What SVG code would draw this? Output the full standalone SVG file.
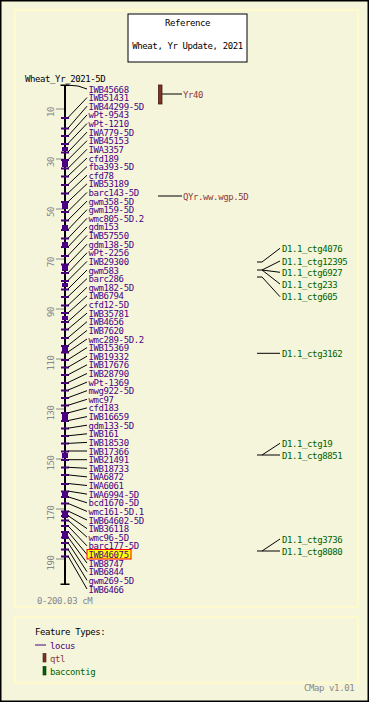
<svg xmlns="http://www.w3.org/2000/svg" width="369" height="702" viewBox="0 0 369 702">
<style>
text{font-family:"DejaVu Sans Mono","Liberation Mono",monospace;font-size:9px;letter-spacing:-0.4px}
.lb{fill:#4b0082}
.q{fill:#8b3a3a}
.g{fill:#006400}
.k{fill:#000}
.gr{fill:#888}
.cn line,.cn polyline{stroke:#000;stroke-width:1;fill:none}
.tk{fill:#4b0082}
.ax{stroke:#888;stroke-width:1}
</style>
<rect x="0" y="0" width="369" height="702" fill="#f5f5dc" stroke="#000" stroke-width="3"/>
<rect id="mainpanel" x="15" y="10" width="343" height="597" fill="#f5f5dc" stroke="#fffacd" stroke-width="2.5"/>
<rect id="legendpanel" x="15" y="617" width="343" height="66" fill="#f5f5dc" stroke="#fffacd" stroke-width="2.5"/>

<g id="title">
<rect x="128" y="14" width="119" height="48" fill="#fff" stroke="#000" stroke-width="1"/>
<text class="k" x="187.5" y="25.5" text-anchor="middle">Reference</text>
<text class="k" x="187.5" y="49" text-anchor="middle">Wheat, Yr Update, 2021</text>
</g>

<text id="maptitle" class="k" x="25" y="82">Wheat_Yr_2021-5D</text>

<g id="axis">
<line class="ax" x1="56" y1="109" x2="64" y2="109"/>
<line class="ax" x1="56" y1="159" x2="64" y2="159"/>
<line class="ax" x1="56" y1="209" x2="64" y2="209"/>
<line class="ax" x1="56" y1="259" x2="64" y2="259"/>
<line class="ax" x1="56" y1="309" x2="64" y2="309"/>
<line class="ax" x1="56" y1="359" x2="64" y2="359"/>
<line class="ax" x1="56" y1="409" x2="64" y2="409"/>
<line class="ax" x1="56" y1="459" x2="64" y2="459"/>
<line class="ax" x1="56" y1="509" x2="64" y2="509"/>
<line class="ax" x1="56" y1="559" x2="64" y2="559"/>
<text class="gr" transform="translate(53.5,112) rotate(-90)" text-anchor="middle">10</text>
<text class="gr" transform="translate(53.5,162) rotate(-90)" text-anchor="middle">30</text>
<text class="gr" transform="translate(53.5,212) rotate(-90)" text-anchor="middle">50</text>
<text class="gr" transform="translate(53.5,262) rotate(-90)" text-anchor="middle">70</text>
<text class="gr" transform="translate(53.5,312) rotate(-90)" text-anchor="middle">90</text>
<text class="gr" transform="translate(53.5,363) rotate(-90)" text-anchor="middle">110</text>
<text class="gr" transform="translate(53.5,413) rotate(-90)" text-anchor="middle">130</text>
<text class="gr" transform="translate(53.5,463) rotate(-90)" text-anchor="middle">150</text>
<text class="gr" transform="translate(53.5,513) rotate(-90)" text-anchor="middle">170</text>
<text class="gr" transform="translate(53.5,563) rotate(-90)" text-anchor="middle">190</text>
<text class="gr" x="37" y="604">0-200.03 cM</text>
</g>

<g id="chromosome">
<rect x="64" y="85" width="2" height="499" fill="#000"/>
<rect x="60.5" y="84.5" width="9" height="1.5" fill="#000"/>
<rect x="60.5" y="583.5" width="9" height="1.5" fill="#000"/>
<g class="tk">
<rect x="61" y="117" width="8" height="2"/><rect x="61" y="127.5" width="8" height="2"/><rect x="61" y="135" width="8" height="2"/><rect x="61" y="143" width="8" height="2"/><rect x="62" y="147" width="6" height="4"/><rect x="61" y="151.5" width="8" height="2"/><rect x="61" y="159" width="8" height="2"/><rect x="62" y="160" width="6" height="7"/><rect x="61" y="167.5" width="8" height="2"/><rect x="61" y="175.5" width="8" height="2"/><rect x="61" y="184" width="8" height="2"/><rect x="61" y="192.5" width="8" height="2"/><rect x="61" y="201" width="8" height="2"/><rect x="62" y="203" width="6" height="6"/><rect x="61" y="211" width="8" height="2"/><rect x="61" y="219.5" width="8" height="2"/><rect x="62" y="225" width="6" height="5"/><rect x="61" y="229" width="8" height="2"/><rect x="61" y="237.5" width="8" height="2"/><rect x="62" y="242" width="6" height="6"/><rect x="61" y="246" width="8" height="2"/><rect x="61" y="255" width="8" height="2"/><rect x="61" y="263.5" width="8" height="2"/><rect x="62" y="265" width="6" height="6"/><rect x="61" y="272" width="8" height="2"/><rect x="61" y="280" width="8" height="2"/><rect x="62" y="283" width="6" height="4"/><rect x="61" y="288.5" width="8" height="2"/><rect x="61" y="296" width="8" height="2"/><rect x="61" y="304.5" width="8" height="2"/><rect x="61" y="312" width="8" height="2"/><rect x="62" y="316" width="6" height="4"/><rect x="61" y="321" width="8" height="2"/><rect x="61" y="328.5" width="8" height="2"/><rect x="61" y="337" width="8" height="2"/><rect x="61" y="345" width="8" height="2"/><rect x="62" y="346" width="6" height="6"/><rect x="61" y="351.5" width="8" height="2"/><rect x="61" y="359" width="8" height="2"/><rect x="61" y="366.5" width="8" height="2"/><rect x="61" y="374" width="8" height="2"/><rect x="61" y="382" width="8" height="2"/><rect x="61" y="389.5" width="8" height="2"/><rect x="61" y="397" width="8" height="2"/><rect x="61" y="404.5" width="8" height="2"/><rect x="61" y="412" width="8" height="2"/><rect x="62" y="414" width="6" height="6"/><rect x="61" y="420" width="8" height="2"/><rect x="61" y="427.5" width="8" height="2"/><rect x="61" y="435" width="8" height="2"/><rect x="61" y="442.5" width="8" height="2"/><rect x="61" y="450.5" width="8" height="2"/><rect x="62" y="453" width="6" height="5"/><rect x="61" y="459" width="8" height="2"/><rect x="61" y="466.5" width="8" height="2"/><rect x="61" y="474" width="8" height="2"/><rect x="61" y="483" width="8" height="2"/><rect x="61" y="490.5" width="8" height="2"/><rect x="62" y="491" width="6" height="5"/><rect x="61" y="496" width="8" height="2"/><rect x="61" y="502.5" width="8" height="2"/><rect x="61" y="510.5" width="8" height="2"/><rect x="62" y="511" width="6" height="7"/><rect x="61" y="515" width="8" height="2"/><rect x="61" y="519.5" width="8" height="2"/><rect x="61" y="525" width="8" height="2"/><rect x="61" y="531" width="8" height="2"/><rect x="62" y="531" width="6" height="8"/><rect x="61" y="536.5" width="8" height="2"/><rect x="61" y="542" width="8" height="2"/><rect x="61" y="548.5" width="8" height="2"/><rect x="61" y="555.5" width="8" height="2"/>
</g>
</g>

<g id="connectors" class="cn">
<polyline points="66,85 78,86 87,89"/>
<line x1="68" y1="117.6" x2="87" y2="97.6"/>
<line x1="68" y1="128.2" x2="87" y2="106.2"/>
<line x1="68" y1="135.9" x2="87" y2="114.9"/>
<line x1="68" y1="143.5" x2="87" y2="123.5"/>
<line x1="68" y1="152.1" x2="87" y2="132.1"/>
<line x1="68" y1="159.7" x2="87" y2="140.7"/>
<line x1="68" y1="168.3" x2="87" y2="149.3"/>
<line x1="68" y1="176" x2="87" y2="158"/>
<line x1="68" y1="184.6" x2="87" y2="166.6"/>
<line x1="68" y1="193.2" x2="87" y2="175.2"/>
<line x1="68" y1="201.8" x2="87" y2="183.8"/>
<line x1="68" y1="211.4" x2="87" y2="192.4"/>
<line x1="68" y1="220.1" x2="87" y2="201.1"/>
<line x1="68" y1="229.7" x2="87" y2="209.7"/>
<line x1="68" y1="238.3" x2="87" y2="218.3"/>
<line x1="68" y1="246.9" x2="87" y2="226.9"/>
<line x1="68" y1="255.5" x2="87" y2="235.5"/>
<line x1="68" y1="264.2" x2="87" y2="244.2"/>
<line x1="68" y1="272.8" x2="87" y2="252.8"/>
<line x1="68" y1="280.4" x2="87" y2="261.4"/>
<line x1="68" y1="289" x2="87" y2="270"/>
<line x1="68" y1="296.6" x2="87" y2="278.6"/>
<line x1="68" y1="305.3" x2="87" y2="287.3"/>
<line x1="68" y1="312.9" x2="87" y2="295.9"/>
<line x1="68" y1="321.5" x2="87" y2="304.5"/>
<line x1="68" y1="329.1" x2="87" y2="313.1"/>
<line x1="68" y1="337.7" x2="87" y2="321.7"/>
<line x1="68" y1="345.4" x2="87" y2="330.4"/>
<line x1="68" y1="352" x2="87" y2="339"/>
<line x1="68" y1="359.6" x2="87" y2="347.6"/>
<line x1="68" y1="367.2" x2="87" y2="356.2"/>
<line x1="68" y1="374.8" x2="87" y2="364.8"/>
<line x1="68" y1="382.5" x2="87" y2="373.5"/>
<line x1="68" y1="390.1" x2="87" y2="382.1"/>
<line x1="68" y1="397.7" x2="87" y2="390.7"/>
<line x1="68" y1="405.3" x2="87" y2="399.3"/>
<line x1="68" y1="412.9" x2="87" y2="407.9"/>
<line x1="68" y1="420.6" x2="87" y2="416.6"/>
<line x1="68" y1="428.2" x2="87" y2="425.2"/>
<line x1="68" y1="435.8" x2="87" y2="433.8"/>
<line x1="68" y1="443.4" x2="87" y2="442.4"/>
<line x1="68" y1="451" x2="87" y2="451"/>
<line x1="68" y1="459.7" x2="87" y2="459.7"/>
<line x1="68" y1="467.3" x2="87" y2="468.3"/>
<line x1="68" y1="474.9" x2="87" y2="476.9"/>
<line x1="68" y1="483.5" x2="87" y2="485.5"/>
<line x1="68" y1="491.1" x2="87" y2="494.1"/>
<line x1="68" y1="496.8" x2="87" y2="502.8"/>
<line x1="68" y1="503.4" x2="87" y2="511.4"/>
<line x1="68" y1="511" x2="87" y2="520"/>
<line x1="68" y1="515.6" x2="87" y2="528.6"/>
<line x1="68" y1="520.2" x2="87" y2="537.2"/>
<line x1="68" y1="525.9" x2="87" y2="545.9"/>
<line x1="68" y1="531.5" x2="87" y2="554.5"/>
<line x1="68" y1="537.1" x2="87" y2="563.1"/>
<line x1="68" y1="542.7" x2="87" y2="571.7"/>
<line x1="68" y1="549.3" x2="87" y2="580.3"/>
<line x1="68" y1="556" x2="87" y2="589"/>
<line x1="162" y1="94" x2="182" y2="94"/>
<line x1="158" y1="196" x2="182" y2="196"/>
<polyline points="257,262 262,262 280,248.3"/>
<line x1="257" y1="270" x2="262" y2="270"/>
<line x1="262" y1="270" x2="280" y2="261"/>
<line x1="262" y1="270" x2="280" y2="272.3"/>
<line x1="262" y1="270" x2="280" y2="284"/>
<polyline points="257,277 262,277 280,296.7"/>
<line x1="257" y1="353.3" x2="280" y2="353.3"/>
<line x1="257" y1="455" x2="280" y2="455"/>
<line x1="262" y1="455" x2="280" y2="443.3"/>
<line x1="257" y1="551" x2="280" y2="551"/>
<line x1="262" y1="551" x2="280" y2="539"/>
</g>

<g id="loci" class="lb">
<text x="88.5" y="92.5">IWB45668</text>
<text x="88.5" y="101.1">IWB51431</text>
<text x="88.5" y="109.7">IWB44299-5D</text>
<text x="88.5" y="118.4">wPt-9543</text>
<text x="88.5" y="127">wPt-1210</text>
<text x="88.5" y="135.6">IWA779-5D</text>
<text x="88.5" y="144.2">IWB45153</text>
<text x="88.5" y="152.8">IWA3357</text>
<text x="88.5" y="161.5">cfd189</text>
<text x="88.5" y="170.1">fba393-5D</text>
<text x="88.5" y="178.7">cfd78</text>
<text x="88.5" y="187.3">IWB53189</text>
<text x="88.5" y="195.9">barc143-5D</text>
<text x="88.5" y="204.6">gwm358-5D</text>
<text x="88.5" y="213.2">gwm159-5D</text>
<text x="88.5" y="221.8">wmc805-5D.2</text>
<text x="88.5" y="230.4">gdm153</text>
<text x="88.5" y="239">IWB57550</text>
<text x="88.5" y="247.7">gdm138-5D</text>
<text x="88.5" y="256.3">wPt-2256</text>
<text x="88.5" y="264.9">IWB29300</text>
<text x="88.5" y="273.5">gwm583</text>
<text x="88.5" y="282.1">barc286</text>
<text x="88.5" y="290.8">gwm182-5D</text>
<text x="88.5" y="299.4">IWB6794</text>
<text x="88.5" y="308">cfd12-5D</text>
<text x="88.5" y="316.6">IWB35781</text>
<text x="88.5" y="325.2">IWB4656</text>
<text x="88.5" y="333.9">IWB7620</text>
<text x="88.5" y="342.5">wmc289-5D.2</text>
<text x="88.5" y="351.1">IWB15369</text>
<text x="88.5" y="359.7">IWB19332</text>
<text x="88.5" y="368.3">IWB17676</text>
<text x="88.5" y="377">IWB28790</text>
<text x="88.5" y="385.6">wPt-1369</text>
<text x="88.5" y="394.2">mwg922-5D</text>
<text x="88.5" y="402.8">wmc97</text>
<text x="88.5" y="411.4">cfd183</text>
<text x="88.5" y="420.1">IWB16659</text>
<text x="88.5" y="428.7">gdm133-5D</text>
<text x="88.5" y="437.3">IWB161</text>
<text x="88.5" y="445.9">IWB18530</text>
<text x="88.5" y="454.5">IWB17366</text>
<text x="88.5" y="463.2">IWB21491</text>
<text x="88.5" y="471.8">IWB18733</text>
<text x="88.5" y="480.4">IWA6872</text>
<text x="88.5" y="489">IWA6061</text>
<text x="88.5" y="497.6">IWA6994-5D</text>
<text x="88.5" y="506.3">bcd1670-5D</text>
<text x="88.5" y="514.9">wmc161-5D.1</text>
<text x="88.5" y="523.5">IWB64602-5D</text>
<text x="88.5" y="532.1">IWB36118</text>
<text x="88.5" y="540.7">wmc96-5D</text>
<text x="88.5" y="549.4">barc177-5D</text>
<rect x="87" y="549.5" width="44" height="9.5" fill="#ffff00" stroke="#ff0000" stroke-width="1"/>
<text x="88.5" y="558">IWB46075</text>
<text x="88.5" y="566.6">IWB8747</text>
<text x="88.5" y="575.2">IWB6844</text>
<text x="88.5" y="583.8">gwm269-5D</text>
<text x="88.5" y="592.5">IWB6466</text>
</g>

<g id="qtl-Yr40">
<rect x="158.5" y="85" width="3.5" height="19" fill="#7a3326" stroke="#4a1a10" stroke-width="0.8"/>
<text class="q" x="183" y="97.5">Yr40</text>
</g>
<g id="qtl-QYr">
<text class="q" x="183" y="199.5">QYr.ww.wgp.5D</text>
</g>

<g id="baccontigs" class="g">
<text x="282" y="251.8">D1.1_ctg4076</text>
<text x="282" y="264.5">D1.1_ctg12395</text>
<text x="282" y="275.8">D1.1_ctg6927</text>
<text x="282" y="287.5">D1.1_ctg233</text>
<text x="282" y="300.2">D1.1_ctg605</text>
<text x="282" y="356.8">D1.1_ctg3162</text>
<text x="282" y="446.8">D1.1_ctg19</text>
<text x="282" y="458.5">D1.1_ctg8851</text>
<text x="282" y="542.5">D1.1_ctg3736</text>
<text x="282" y="554.5">D1.1_ctg8080</text>
</g>

<g id="legend">
<text class="k" x="35" y="634.5">Feature Types:</text>
<line x1="35" y1="645" x2="46" y2="645" stroke="#4b0082" stroke-width="1"/>
<text class="lb" x="50" y="648.5">locus</text>
<rect x="43" y="653.5" width="3" height="8.5" fill="#7a3326" stroke="#4a1a10" stroke-width="0.6"/>
<text class="q" x="50" y="661.5">qtl</text>
<rect x="43" y="666.5" width="3" height="8.5" fill="#006400" stroke="#003300" stroke-width="0.6"/>
<text class="g" x="50" y="674.5">baccontig</text>
</g>

<text id="version" class="gr" x="304" y="691">CMap v1.01</text>
</svg>
